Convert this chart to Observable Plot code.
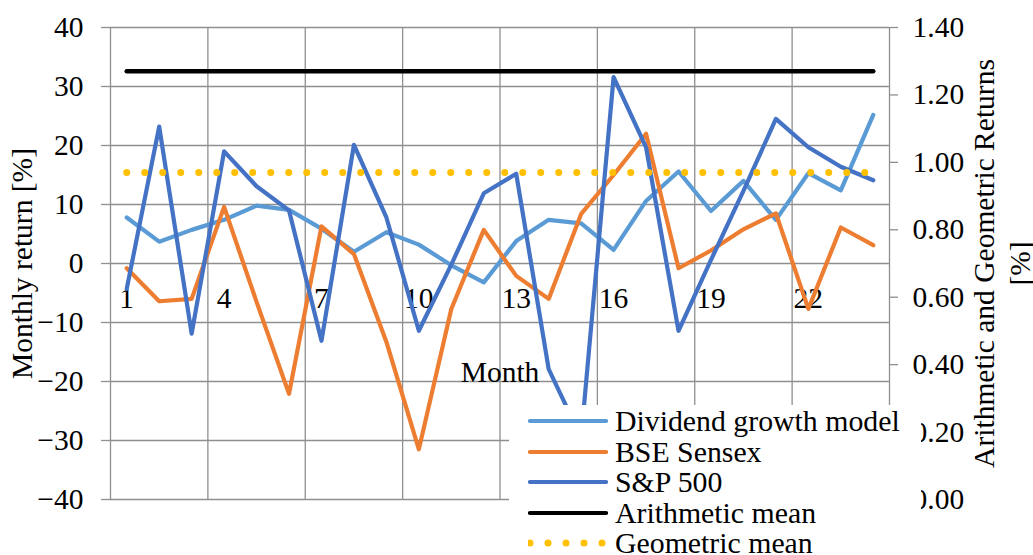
<!DOCTYPE html>
<html><head><meta charset="utf-8">
<script src="https://cdn.jsdelivr.net/npm/d3@7"></script>
<script src="https://cdn.jsdelivr.net/npm/@observablehq/plot@0.6"></script>
<style>
body{margin:0;background:#fff;}
#wrap{position:relative;width:1033px;height:555px;overflow:hidden;font-family:"Liberation Serif","Times New Roman",serif;}
#legend{position:absolute;left:509px;top:405px;width:412px;height:160px;background:#fff;}
.row{position:absolute;left:19px;height:30px;display:flex;align-items:center;font-size:29.8px;color:#000;white-space:nowrap;}
.row svg{margin-right:7px;}
</style></head><body><div id="wrap"></div>
<script>
const months = d3.range(1, 25);
const dividend = [7.8, 3.7, 5.7, 7.4, 9.8, 9.1, 5.9, 2.0, 5.3, 3.2, -0.3, -3.2, 3.8, 7.4, 6.8, 2.3, 10.6, 15.6, 8.9, 14.0, 7.4, 15.3, 12.4, 25.2];
const bse = [-0.8, -6.4, -6.0, 9.6, -6.5, -22.1, 6.3, 1.6, -13.3, -31.5, -7.7, 5.7, -2.1, -6.0, 8.4, 15.0, 22.0, -0.8, 2.2, 5.8, 8.5, -7.7, 6.1, 3.1];
const sp500 = [-4.3, 23.2, -11.9, 19.0, 13.1, 9.0, -13.1, 20.1, 7.8, -11.4, -0.2, 11.9, 15.2, -17.9, -29.5, 31.6, 19.7, -11.4, 0.6, 12.3, 24.5, 19.7, 16.4, 14.1];
const arithmeticMean = 1.27;
const geometricMean = 0.97;
const leftTicks = [-40, -30, -20, -10, 0, 10, 20, 30, 40];
const rightTicks = [0, 0.2, 0.4, 0.6, 0.8, 1.0, 1.2, 1.4];
const xTickLabels = [1, 4, 7, 10, 13, 16, 19, 22];
const seriesNames = ["Dividend growth model", "BSE Sensex", "S&P 500", "Arithmetic mean", "Geometric mean"];
const colors = ["#5B9BD5", "#ED7D31", "#4472C4", "#000000", "#FFC000"];

const rightMax = 1.4, leftMin = -40, leftMax = 40;
const toLeft = v => leftMin + v * (leftMax - leftMin) / rightMax;
const fromLeft = d => (d - leftMin) * rightMax / (leftMax - leftMin);
const rows = vals => months.map((m, i) => ({month: m, value: vals[i]}));
const meanRows = v => months.map(m => ({month: m, value: toLeft(v)}));
const grid = "#8f8f8f";

const plot = Plot.plot({
  width: 1033, height: 555,
  marginLeft: 110, marginRight: 144, marginTop: 27, marginBottom: 56,
  style: {fontFamily: '"Liberation Serif", "Times New Roman", serif', fontSize: "29.5px", color: "#000", background: "#fff"},
  x: {type: "linear", domain: [0.5, 24.5], axis: null},
  y: {domain: [leftMin, leftMax], axis: null},
  marks: [
    Plot.gridX(d3.range(0.5, 25, 3), {stroke: grid, strokeOpacity: 1, strokeWidth: 1.3}),
    Plot.gridY(leftTicks, {stroke: grid, strokeOpacity: 1, strokeWidth: 1.3}),
    Plot.axisY(leftTicks, {anchor: "left", tickSize: 9, tickPadding: 18, stroke: grid, strokeWidth: 1.3, fill: "#000", label: null}),
    Plot.axisY(rightTicks.map(toLeft), {anchor: "right", tickSize: 8, tickPadding: 15, stroke: grid, strokeWidth: 1.3, fill: "#000", label: null, tickFormat: d => fromLeft(d).toFixed(2)}),
    Plot.text(xTickLabels, {x: d => d, y: 0, text: d => String(d), dy: 35, fill: "#000"}),
    Plot.line(rows(dividend), {x: "month", y: "value", stroke: colors[0], strokeWidth: 4.2, strokeLinejoin: "round", strokeLinecap: "round"}),
    Plot.line(rows(bse), {x: "month", y: "value", stroke: colors[1], strokeWidth: 4.2, strokeLinejoin: "round", strokeLinecap: "round"}),
    Plot.line(rows(sp500), {x: "month", y: "value", stroke: colors[2], strokeWidth: 4.2, strokeLinejoin: "round", strokeLinecap: "round"}),
    Plot.line(meanRows(arithmeticMean), {x: "month", y: "value", stroke: colors[3], strokeWidth: 4.5, strokeLinecap: "round"}),
    Plot.line(meanRows(geometricMean), {x: "month", y: "value", stroke: colors[4], strokeWidth: 7, strokeLinecap: "round", strokeDasharray: "0 18"}),
    Plot.text(["Month"], {frameAnchor: "middle", dy: 109, fill: "#000"}),
    Plot.text(["Monthly return [%]"], {frameAnchor: "left", textAnchor: "middle", lineAnchor: "middle", rotate: -90, dx: -88, fill: "#000"}),
    Plot.text(["Arithmetic and Geometric Returns\n[%]"], {frameAnchor: "right", textAnchor: "middle", lineAnchor: "middle", rotate: -90, dx: 111, lineHeight: 1.2, fill: "#000"})
  ]
});

const wrap = document.getElementById("wrap");
wrap.appendChild(plot);

const legend = document.createElement("div");
legend.id = "legend";
const rowTops = [1, 32, 62, 93, 123];
seriesNames.forEach((name, i) => {
  const row = document.createElement("div");
  row.className = "row";
  row.style.top = rowTops[i] + "px";
  const dotted = i === 4;
  row.innerHTML = `<svg width="80" height="12"><line x1="2" x2="78" y1="6" y2="6" stroke="${colors[i]}" stroke-width="${dotted ? 7 : 4.2}" stroke-linecap="round" ${dotted ? 'stroke-dasharray="0 18"' : ''}/></svg><span>${name.replace("&", "&amp;")}</span>`;
  legend.appendChild(row);
});
wrap.appendChild(legend);
</script>
</body></html>
